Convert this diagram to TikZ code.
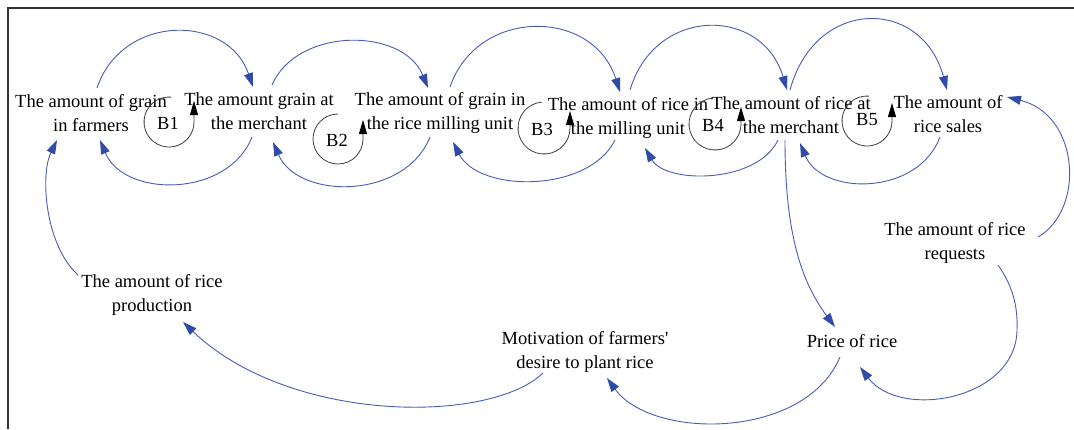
\documentclass[tikz,border=0pt]{standalone}
\usepackage{fontspec}
\setmainfont{Liberation Serif}[Ligatures=TeXOff]
\usetikzlibrary{arrows.meta,calc}
\definecolor{linkblue}{RGB}{72,92,182}
\definecolor{tipblue}{RGB}{48,76,168}
\definecolor{loopgray}{RGB}{60,60,60}
\definecolor{framegray}{RGB}{50,50,50}
\tikzset{
  var/.style={align=center,inner sep=0pt,font=\fontsize{18.5}{24}\selectfont,text=black},
  looplabel/.style={inner sep=0pt,font=\fontsize{18.5}{24}\selectfont},
  link/.style={draw=linkblue,line width=0.9pt,-{Triangle[length=14pt,width=9pt,color=tipblue]}},
  loopline/.style={draw=loopgray,line width=0.8pt,-{Triangle[length=14pt,width=8pt,color=black]}},
  frameline/.style={draw=framegray,line width=2pt}
}
\begin{document}
\begin{tikzpicture}[x=1pt,y=1pt]
\useasboundingbox (0,0) rectangle (1074,-429);
% frame
\draw[frameline] (8,-429) -- (8,-8) -- (1074,-8);
% variables
\node[var] (n1) at (91,-112.6) {The amount of grain\\in farmers};
\node[var] (n2) at (259,-111) {The amount grain at\\the merchant};
\node[var] (n3) at (440,-113) {The amount of grain in\\the rice milling unit};
\node[var] (n4) at (628,-118) {The amount of rice in\\the milling unit};
\node[var] (n5) at (791,-115) {The amount of rice at\\the merchant};
\node[var] (n6) at (948,-114) {The amount of\\rice sales};
\node[var] (n7) at (152,-295) {The amount of rice\\production};
\node[var] (n8) at (585,-352) {Motivation of farmers'\\desire to plant rice};
\node[var] (n9) at (852,-341) {Price of rice};
\node[var] (n10) at (955,-243) {The amount of rice\\requests};
% loop labels
\node[looplabel] (b1) at (168,-123) {B1};
\node[looplabel] (b2) at (337,-140) {B2};
\node[looplabel] (b3) at (542,-129) {B3};
\node[looplabel] (b4) at (713,-125) {B4};
\node[looplabel] (b5) at (867,-120) {B5};
% loop circles
\draw[loopline] ($(b1)+(1,1)$) ++(85:25) arc[start angle=85,end angle=360,radius=25] -- ++(0,21);
\draw[loopline] ($(b2)+(1,1)$) ++(90:25) arc[start angle=90,end angle=360,radius=25] -- ++(0,19);
\draw[loopline] ($(b3)+(2,1)$) ++(95:26) arc[start angle=95,end angle=360,radius=26] -- ++(0,17);
\draw[loopline] ($(b4)+(2,1)$) ++(95:26) arc[start angle=95,end angle=360,radius=26] -- ++(0,17);
\draw[loopline] ($(b5)+(0,-1)$) ++(85:25) arc[start angle=85,end angle=360,radius=25] -- ++(0,18);
% forward arcs (top)
\draw[link] ($(n1)+(6,24.6)$) .. controls +(25,74.5) and +(-25,73.5) .. ($(n2)+(-6,24)$);
\draw[link] ($(n2)+(13,26)$) .. controls +(25,58) and +(-25,61) .. ($(n3)+(-12,25)$);
\draw[link] ($(n3)+(10,26)$) .. controls +(27,79.5) and +(-27,84.5) .. ($(n4)+(-8,26)$);
\draw[link] ($(n4)+(2,28)$) .. controls +(25,84) and +(-25,84) .. ($(n5)+(-4,25)$);
\draw[link] ($(n5)+(-1,25)$) .. controls +(25,93) and +(-25,93) .. ($(n6)+(-1,24)$);
% backward arcs (bottom)
\draw[link] ($(n2)+(-7,-26)$) .. controls +(-24,-61) and +(24,-58) .. ($(n1)+(9,-27.4)$);
\draw[link] ($(n3)+(-10,-24)$) .. controls +(-25,-63) and +(25,-58) .. ($(n2)+(14,-31)$);
\draw[link] ($(n4)+(-13,-22)$) .. controls +(-26,-53) and +(26,-51) .. ($(n3)+(13,-29)$);
\draw[link] ($(n5)+(-13,-25)$) .. controls +(-21,-44) and +(21,-36) .. ($(n4)+(17,-30)$);
\draw[link] ($(n6)+(-8,-23)$) .. controls +(-22,-59) and +(22,-53) .. ($(n5)+(9,-28)$);
% other links
\draw[link] ($(n5)+(-6,-25)$) .. controls +(0,-90) and +(-35,47) .. ($(n9)+(-17,14)$);
\draw[link] ($(n9)+(-12,-16)$) .. controls +(-35,-83) and +(45,-62) .. ($(n8)+(22,-26)$);
\draw[link] ($(n8)+(-42,-21)$) .. controls +(-53,-51) and +(107,-102) .. ($(n7)+(31,-27)$);
\draw[link] ($(n7)+(-74,20)$) .. controls +(-33,30) and +(-17,-35) .. ($(n1)+(-34,-27.4)$);
\coordinate (m10) at ($(n10)+(62,-87)$);
\draw[link] ($(n10)+(43,-22)$) .. controls +(14,-20) and +(1,25) .. (m10)
  .. controls +(-1,-70) and +(40,-53) .. ($(n9)+(8,-26)$);
\draw[link] ($(n10)+(83,6)$) .. controls +(47,27) and +(73,-18) .. ($(n6)+(59,17)$);
\end{tikzpicture}
\end{document}
